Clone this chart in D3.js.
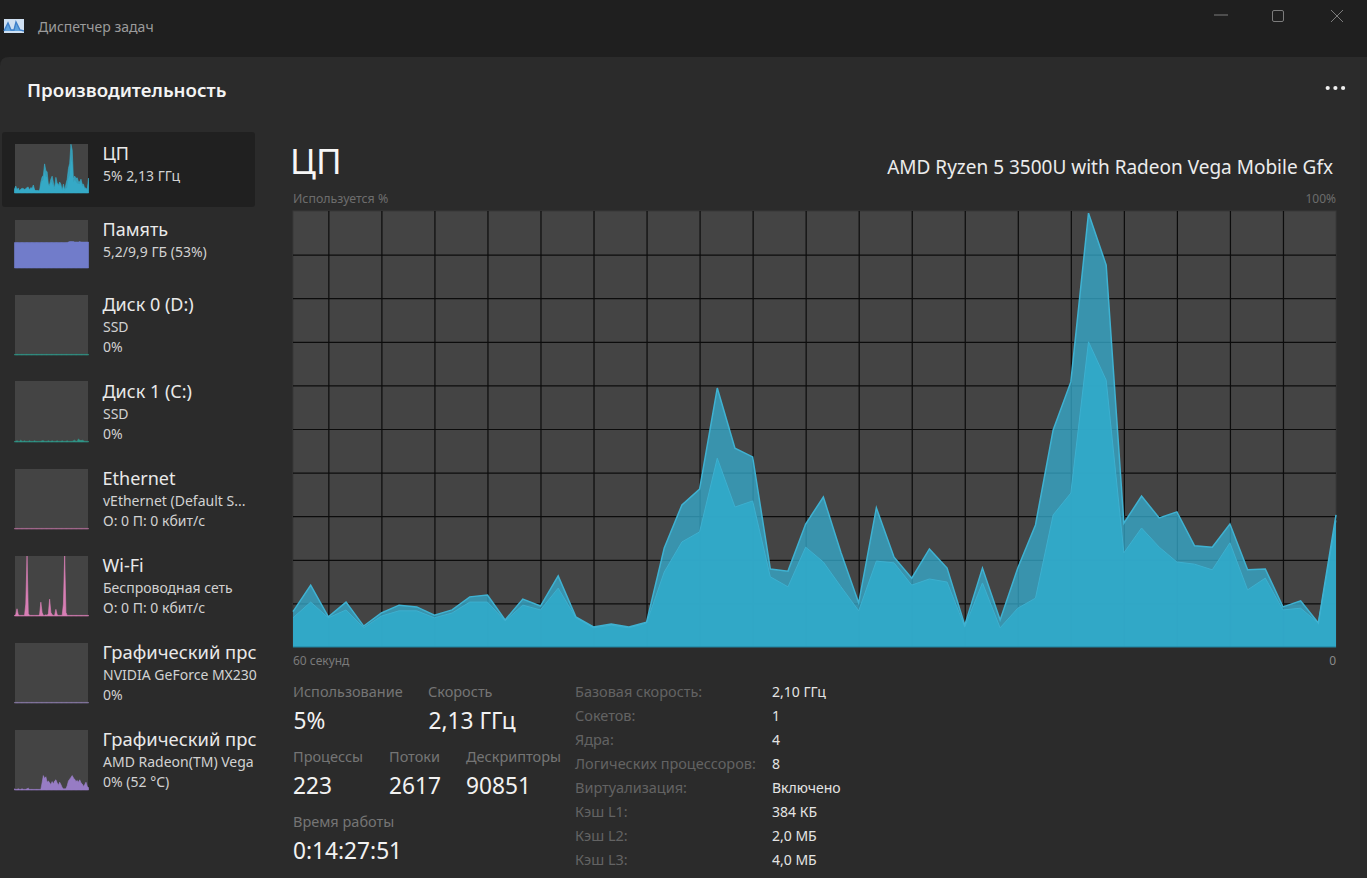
<!DOCTYPE html>
<html><head><meta charset="utf-8">
<script src="https://cdn.jsdelivr.net/npm/d3@7"></script>
<style>html,body{margin:0;padding:0;background:#1e1e1e;overflow:hidden}svg{display:block}text{font-family:"Noto Sans","Open Sans",sans-serif}</style>
</head><body><div id="c"></div>
<script>
// ---- data ----
const cpuTotal = [8.1,14.2,6.9,10.3,4.8,7.8,9.6,9.2,7.3,8.5,11.5,11.9,6.2,11,9.4,16.3,6.9,4.6,5.3,4.6,5.7,
  22.7,32.6,36.2,59.4,45.6,43.6,17.9,17.4,28.2,34.4,21.6,10.1,31.9,20.6,15.8,22.5,18.1,5,18.1,6.2,
  18.1,28,49.8,60.8,99.5,87.6,28.4,34.6,29.6,31,23.2,22.9,28.2,17.7,17.9,9.2,10.6,5.5,30.3];
const cpuKernel = [6.7,10.3,6.7,8.5,4.4,7.1,8.3,8.3,6.7,7.8,10.3,10.3,6,9.6,8.5,13.5,6.7,4.4,5,4.4,5.5,
  17.2,24.1,26.4,43.3,32.1,33.5,16.1,13.8,22.9,19.5,13.8,8.3,19.7,19.3,14.2,15.6,14.9,4.6,14.7,4.4,
  8.9,11.2,30.3,35.3,70,61.2,21.6,27.3,22.9,19.5,19,17.7,23.9,13.1,15.8,8.5,8.9,5.5,29];
const memoryUse = [53,53,53,53,53,53,53,53,53,53,53,53,53,53,53,53,53,53,53,53,53,53,53,53,53,53,53,53,53,53,53,53,53,53,53,53,53,53,53,53,53,53,53,54,55,55,55,55,54,54,54,54,55,54,54,54,54,54,54,54];
const disk0Use = [1,1,1,1,1,1,1,1,1,1,1,1,1,1,1,1,1,1,1,1,1,1,1,1,1,1,1,1,1,1,1,1,1,1,1,1,1,1,1,1,1,1,1,1,1,1,1,1,1,1,1,1,1,1,1,1,1,1,1,1];
const disk1Use = [1,1,2,1,1,3,1,1,2,1,1,1,2,1,1,1,2,1,1,1,1,1,2,2,1,1,1,2,1,1,2,1,1,1,2,1,1,1,2,1,1,1,2,1,1,1,1,2,3,1,1,5,3,2,3,2,1,1,1,1];
const ethernetUse = [1,1,1,1,1,1,1,1,1,1,1,1,1,1,1,1,1,1,1,1,1,1,1,1,1,1,1,1,1,1,1,1,1,1,1,1,1,1,1,1,1,1,1,1,1,1,1,1,1,1,1,1,1,1,1,1,1,1,1,1];
const wifiUse = [1,2,12,2,1,1,1,1,1,20,100,4,1,1,1,1,1,1,1,1,2,23,6,1,1,2,1,4,28,6,2,1,1,11,2,1,1,1,1,20,100,6,1,1,1,1,1,1,1,1,1,1,1,1,1,1,1,1,1,1];
const nvidiaUse = [1,1,1,1,1,1,1,1,1,1,1,1,1,1,1,1,1,1,1,1,1,1,1,1,1,1,1,1,1,1,1,1,1,1,1,1,1,1,1,1,1,1,1,1,1,1,1,1,1,1,1,1,1,1,1,1,1,1,1,1];
const amdUse = [2,1,1,2,1,1,2,1,1,1,2,3,1,1,1,1,1,1,1,1,1,1,12,24,19,22,13,15,12,9,14,10,15,17,12,8,13,9,4,2,2,2,7,15,18,21,24,20,18,14,16,13,17,12,10,6,9,13,6,4];

const rowTitles = ["ЦП","Память","Диск 0 (D:)","Диск 1 (C:)","Ethernet","Wi-Fi","Графический прс","Графический прс"];
const rowLine2 = ["5% 2,13 ГГц","5,2/9,9 ГБ (53%)","SSD","SSD","vEthernet (Default S...","Беспроводная сеть","NVIDIA GeForce MX230","AMD Radeon(TM) Vega"];
const rowLine3 = ["","","0%","0%","О: 0 П: 0 кбит/с","О: 0 П: 0 кбит/с","0%","0% (52 °C)"];
const rowSeries = [cpuTotal,memoryUse,disk0Use,disk1Use,ethernetUse,wifiUse,nvidiaUse,amdUse];
const rowColors = ["#35acca","#7480d2","#2f9a8c","#2f9a8c","#b5709c","#df82bb","#8f7fae","#9c7fcb"];

const statLabels = ["Использование","Скорость","Процессы","Потоки","Дескрипторы","Время работы"];
const statValues = ["5%","2,13 ГГц","223","2617","90851","0:14:27:51"];
const specLabels = ["Базовая скорость:","Сокетов:","Ядра:","Логических процессоров:","Виртуализация:","Кэш L1:","Кэш L2:","Кэш L3:"];
const specValues = ["2,10 ГГц","1","4","8","Включено","384 КБ","2,0 МБ","4,0 МБ"];
const gridX = d3.range(2,59,3);
const gridY = d3.range(10,100,10);

// ---- layout ----
const W=1367,H=878;
const svg=d3.select("#c").append("svg").attr("width",W).attr("height",H);
const txt=(s,x,y,size,fill,opt={})=>svg.append("text").attr("x",x).attr("y",y).attr("font-size",size).attr("fill",fill)
  .attr("text-anchor",opt.anchor||"start").attr("font-weight",opt.weight||400).text(s);

// window chrome
svg.append("rect").attr("width",W).attr("height",H).attr("fill","#1f1f1f");
svg.append("path").attr("d",`M0,66 Q0,57 9,57 H${W} V${H} H0 Z`).attr("fill","#2b2b2b");
txt("Диспетчер задач",38,32,14,"#9b9b9b");
txt("Производительность",27,97,18.7,"#f4f4f4",{weight:600});
// app icon
svg.append("rect").attr("x",4).attr("y",19).attr("width",20).attr("height",14).attr("fill","#cfe0f2");
svg.append("path").attr("d",d3.line()([[4,31],[8,23],[11,30],[14,30],[16,22],[20,30],[24,31]])).attr("fill","#5fa3de").attr("stroke","#3f7fc8").attr("stroke-width",1.4);
// window controls
svg.append("path").attr("d","M1214,15H1228M1331,10L1343,22M1343,10L1331,22").attr("stroke","#7c7c7c").attr("fill","none");
svg.append("rect").attr("x",1272.5).attr("y",10.5).attr("width",11).attr("height",11).attr("rx",1.5).attr("fill","none").attr("stroke","#7c7c7c");
svg.selectAll("circle.dot").data([1327.7,1335.4,1343.1]).join("circle").attr("cx",d=>d).attr("cy",88).attr("r",2.1).attr("fill","#f0f0f0");

// sidebar
svg.append("rect").attr("x",2).attr("y",132).attr("width",253).attr("height",75).attr("rx",3).attr("fill","#202020");
svg.append("clipPath").attr("id","side").append("rect").attr("x",0).attr("y",120).attr("width",260).attr("height",700);
const miniTop=[144,220,295,381,469,556,643,730], miniH=[49,48,60,61,60,60,60,60];
const titleBase=[160,236,311,398,485,572,659,746];
const side=svg.append("g").attr("clip-path","url(#side)");
rowTitles.forEach((t,k)=>{
  const top=miniTop[k],h=miniH[k];
  const mx=d3.scaleLinear().domain([0,59]).range([14.5,88.5]);
  const my=d3.scaleLinear().domain([0,100]).range([top+h,top]);
  side.append("rect").attr("x",15).attr("y",top).attr("width",73).attr("height",h).attr("fill","#444");
  const a=d3.area().x((d,i)=>mx(i)).y0(top+h).y1(d=>my(d));
  side.append("path").attr("d",a(rowSeries[k])).attr("fill",rowColors[k]).attr("fill-opacity",k===0?.85:.95).attr("stroke",rowColors[k]).attr("stroke-width",.6);
  if(k===0) side.append("path").attr("d",a(cpuKernel)).attr("fill",rowColors[k]).attr("fill-opacity",.8);
  side.append("text").attr("x",102.5).attr("y",titleBase[k]).attr("font-size",k>=6?18.4:18).attr("fill","#e9e9e9").text(t);
  side.append("text").attr("x",103).attr("y",titleBase[k]+21).attr("font-size",14).attr("fill","#d2d2d2").text(rowLine2[k]);
  if(rowLine3[k]) side.append("text").attr("x",103).attr("y",titleBase[k]+41).attr("font-size",14).attr("fill","#d2d2d2").text(rowLine3[k]);
});

// headers
txt("ЦП",290,174,35,"#f6f6f6");
txt("AMD Ryzen 5 3500U with Radeon Vega Mobile Gfx",1333,174,19,"#ececec",{anchor:"end"});
txt("Используется %",293,203,12.4,"#6d6d6d");
txt("100%",1336,203,12,"#6d6d6d",{anchor:"end"});
txt("60 секунд",293,665,12,"#7a7a7a");
txt("0",1336,665,12,"#8a8a8a",{anchor:"end"});

// main chart
const x=d3.scaleLinear().domain([0,59]).range([293,1336]);
const y=d3.scaleLinear().domain([0,100]).range([647,211]);
svg.append("rect").attr("x",293).attr("y",211).attr("width",1043).attr("height",436).attr("fill","#444").attr("stroke","#383838");
const gx=svg.append("g").attr("transform","translate(0,647)").call(d3.axisBottom(x).tickValues(gridX).tickSize(-436).tickFormat(""));
const gy=svg.append("g").attr("transform","translate(293,0)").call(d3.axisLeft(y).tickValues(gridY).tickSize(-1043).tickFormat(""));
[gx,gy].forEach(g=>{g.select(".domain").remove();g.selectAll("line").attr("stroke","#0c0c0c").attr("stroke-width",1.2);});
const area=d3.area().x((d,i)=>x(i)).y0(647).y1(d=>y(d));
const line=d3.line().x((d,i)=>x(i)).y(d=>y(d));
svg.append("path").attr("d",area(cpuTotal)).attr("fill","#36a9cb").attr("fill-opacity",.78);
svg.append("path").attr("d",area(cpuKernel)).attr("fill","#31a9c9").attr("fill-opacity",.92);
svg.append("path").attr("d",line(cpuKernel)).attr("fill","none").attr("stroke","#3cb0d0").attr("stroke-width",1);
svg.append("path").attr("d",line(cpuTotal)).attr("fill","none").attr("stroke","#3fb2d2").attr("stroke-width",1.5);
svg.append("line").attr("x1",293).attr("x2",1336).attr("y1",647).attr("y2",647).attr("stroke","#1f7f9a").attr("stroke-width",1);

// statistics
const labelX=[293,428,293,389,466,293], labelY=[697,697,762,762,762,827];
statLabels.forEach((s,i)=>{
  txt(s,labelX[i],labelY[i],14.5,"#757575");
  txt(statValues[i],labelX[i]+(i<2?.5:0),labelY[i]+32,22.7,"#f2f2f2");
});
specLabels.forEach((s,i)=>{
  txt(s,575,697+24*i,14.5,"#636363");
  txt(specValues[i],772,697+24*i,14,"#e4e4e4");
});
</script></body></html>
